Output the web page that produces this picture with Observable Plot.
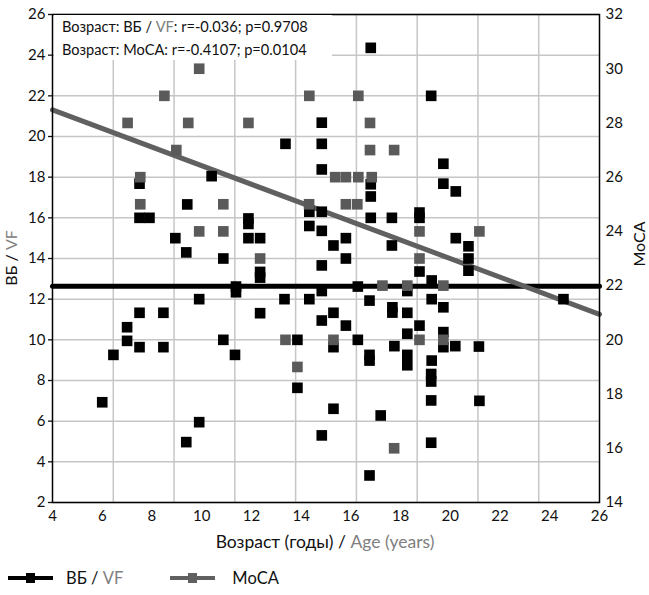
<!DOCTYPE html>
<html>
<head>
<meta charset="utf-8">
<script src="https://cdn.jsdelivr.net/npm/d3@7"></script>
<script src="https://cdn.jsdelivr.net/npm/@observablehq/plot@0.6"></script>
<style>
  body { margin: 0; background: #fff; font-family: Lato, "Open Sans", sans-serif; }
  #wrap { position: relative; width: 649px; height: 595px; overflow: hidden; }
  #note { position: absolute; left: 54px; top: 15px; width: 278px; height: 45px; background: #fff;
          font-size: 14.6px; line-height: 23px; color: #111; padding-left: 8px; box-sizing: border-box; }
  .g { color: #808080; fill: #808080; }
  #legend { position: absolute; left: 0; top: 565px; height: 26px; display: flex; align-items: center;
            font-size: 16.5px; color: #111; }
  #legend .item { display: flex; align-items: center; }
  #legend svg { display: block; }
</style>
</head>
<body>
<div id="wrap">
  <div id="note">
    <div>Возраст: ВБ / <span class="g">VF</span>: r=-0.036; p=0.9708</div>
    <div>Возраст: MoCA: r=-0.4107; p=0.0104</div>
  </div>
  <div id="legend">
    <div class="item" style="margin-left:8px">
      <svg width="45" height="14"><line x1="0" x2="45" y1="7" y2="7" stroke="#000" stroke-width="4"/><rect x="18" y="2" width="9" height="10" fill="#000"/></svg>
      <span style="margin-left:13px">ВБ / <span class="g">VF</span></span>
    </div>
    <div class="item" style="margin-left:47px">
      <svg width="45" height="14"><line x1="0" x2="45" y1="7" y2="7" stroke="#606060" stroke-width="4"/><rect x="18" y="2" width="9" height="10" fill="#606060"/></svg>
      <span style="margin-left:17px">MoCA</span>
    </div>
  </div>
</div>
<script>
// ---- Data ----
// ВБ / VF (left axis) vs age
const vfAge = [6.0, 6.45, 7.0, 7.0, 7.5, 7.5, 7.5, 7.5, 7.9, 8.46, 8.46, 8.94, 9.38, 9.42, 9.38, 9.9, 9.9,
  10.4, 10.87, 10.87, 11.38, 11.38, 11.34, 11.88, 11.88, 11.88, 12.35, 12.35, 12.35, 12.35,
  13.33, 13.37, 13.85, 13.85, 14.33, 14.33, 14.33, 14.83, 14.83, 14.83, 14.83, 14.83, 14.83, 14.83, 14.83, 14.83,
  15.3, 15.3, 15.3, 15.3, 15.8, 15.8, 15.8, 16.28, 16.28, 16.8, 16.8, 16.8, 16.8, 16.75, 16.75, 16.75, 16.75,
  17.2, 17.65, 17.65, 17.67, 17.67, 17.75, 18.27, 18.27, 18.27, 18.27, 18.27, 18.76, 18.76, 18.76, 18.76,
  19.23, 19.25, 19.25, 19.25, 19.23, 19.23, 19.23, 19.23, 19.72, 19.72, 19.72, 19.72, 19.72,
  20.22, 20.22, 20.2, 20.73, 20.73, 20.73, 21.15, 21.17, 24.55];
const vfValue = [6.93, 9.26, 10.62, 9.95, 11.33, 9.64, 17.68, 16.0, 16.0, 11.33, 9.64, 15.0, 14.3, 16.66, 4.97, 12.0, 5.95,
  18.05, 14.0, 10.0, 12.62, 12.34, 9.26, 15.97, 15.7, 15.0, 15.0, 13.34, 13.06, 11.31,
  12.0, 19.64, 10.0, 7.64, 16.3, 15.6, 12.0, 20.68, 19.64, 18.38, 16.3, 15.36, 13.66, 12.4, 10.95, 5.3,
  14.64, 11.33, 9.64, 6.61, 15.0, 14.0, 10.7, 12.62, 10.0, 24.36, 17.65, 17.05, 16.0, 11.93, 9.26, 8.98, 3.33,
  6.28, 16.0, 14.64, 11.6, 11.34, 9.69, 12.4, 11.33, 10.3, 9.26, 8.75, 16.26, 16.0, 13.36, 10.7,
  22.0, 12.92, 12.0, 8.98, 8.32, 7.95, 7.02, 4.94, 18.66, 17.68, 11.6, 10.38, 9.64,
  17.3, 15.0, 9.69, 14.6, 14.0, 13.4, 9.67, 7.0, 12.0];
// MoCA (right axis) vs age
const mocaAge = [7.02, 8.5, 9.46, 9.9, 8.98, 7.53, 7.53, 9.9, 11.88, 14.33, 16.3, 16.77, 16.77, 10.87, 10.87, 12.35,
  14.32, 15.8, 16.26, 15.37, 15.8, 16.3, 16.84, 17.74, 18.76, 21.17, 18.76, 17.27, 18.27, 19.72,
  18.76, 19.72, 13.37, 15.3, 13.85, 17.74];
const mocaValue = [28, 29, 28, 30, 27, 26, 25, 24, 28, 29, 29, 28, 27, 25, 24, 23,
  25, 25, 25, 26, 26, 26, 26, 27, 24, 24, 23, 22, 22, 22,
  20, 20, 20, 20, 19, 16];
// Regression lines
const fitAge = [4, 26];
const vfFit = [12.64, 12.64];
const mocaFit = [28.48, 20.94];
// Axis ticks
const xTicks = [4, 6, 8, 10, 12, 14, 16, 18, 20, 22, 24, 26];
const leftTicks = [2, 4, 6, 8, 10, 12, 14, 16, 18, 20, 22, 24, 26];
const rightTicks = [14, 16, 18, 20, 22, 24, 26, 28, 30, 32];

// MoCA (14..32) mapped onto the left scale (2..26)
const toLeft = m => 2 + (m - 14) * 24 / 18;
const fromLeft = v => 14 + (v - 2) * 18 / 24;
// vertical gridlines of the original: 9 equal divisions of the frame
const gridX = d3.range(1, 9).map(k => 4 + k * 22 / 9);

const vfData = vfAge.map((a, i) => ({age: a, v: vfValue[i]}));
const mocaData = mocaAge.map((a, i) => ({age: a, v: toLeft(mocaValue[i])}));
const fitIdx = d3.range(fitAge.length);

const grid = {stroke: "#c6c6c6", strokeOpacity: 1, strokeWidth: 1.5};
const chart = Plot.plot({
  width: 649, height: 560,
  marginTop: 14, marginBottom: 58, marginLeft: 52, marginRight: 50,
  style: {fontFamily: "Lato, 'Open Sans', sans-serif", fontSize: "15px", color: "#111", background: "#fff"},
  x: {domain: [4, 26], label: null},
  y: {domain: [2, 26], label: null},
  marks: [
    Plot.gridY(leftTicks, grid),
    Plot.gridX(gridX, grid),
    Plot.axisY(leftTicks, {anchor: "left", tickSize: 4, tickPadding: 3, label: null, strokeWidth: 1.3}),
    Plot.axisY(rightTicks.map(toLeft), {anchor: "right", tickSize: 0, tickPadding: 6, label: null,
      tickFormat: d => String(Math.round(fromLeft(d)))}),
    Plot.axisX(xTicks, {anchor: "bottom", tickSize: 0, tickPadding: 8, label: null}),
    Plot.line(fitIdx, {x: i => fitAge[i], y: i => vfFit[i], stroke: "#000", strokeWidth: 5}),
    Plot.line(fitIdx, {x: i => fitAge[i], y: i => toLeft(mocaFit[i]), stroke: "#606060", strokeWidth: 5}),
    Plot.dot(vfData, {x: "age", y: "v", symbol: "square", r: 6, fill: "#000"}),
    Plot.dot(mocaData, {x: "age", y: "v", symbol: "square", r: 6, fill: "#5a5a5a"}),
    Plot.frame({stroke: "#000", strokeWidth: 1.5})
  ]
});
document.getElementById("wrap").prepend(chart);

const svg = d3.select(chart);
const lt = svg.append("text").attr("transform", "translate(17,258) rotate(-90)")
  .attr("text-anchor", "middle").attr("font-size", 16).attr("fill", "#111");
lt.append("tspan").text("ВБ / ");
lt.append("tspan").attr("fill", "#808080").text("VF");
svg.append("text").attr("transform", "translate(645,244) rotate(-90)")
  .attr("text-anchor", "middle").attr("font-size", 16).attr("fill", "#111").text("MoCA");
const xt = svg.append("text").attr("x", 325).attr("y", 548)
  .attr("text-anchor", "middle").attr("font-size", 17.5).attr("fill", "#111");
xt.append("tspan").text("Возраст (годы) / ");
xt.append("tspan").attr("fill", "#808080").text("Age (years)");
</script>
</body>
</html>
